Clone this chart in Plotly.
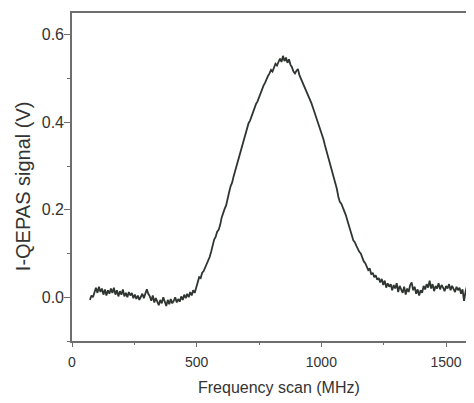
import plotly.graph_objects as go

freq_start = 72
freq_step = 6
signal_v = [
    -0.006, 0.004, 0.000, 0.014, 0.022, 0.010, 0.024, 0.012, 0.020, 0.006,
    0.018, 0.004, 0.016, 0.008, 0.020, 0.010, 0.022, 0.006, 0.016, 0.002,
    0.014, 0.006, 0.018, 0.002, 0.010, 0.000, 0.012, 0.004, 0.010, -0.002,
    0.006, -0.004, 0.004, -0.006, 0.002, 0.008, -0.002, 0.010, 0.018, 0.008,
    0.002, -0.008, 0.004, -0.012, -0.002, -0.010, -0.018, -0.006, -0.014, 0.000,
    -0.012, -0.020, -0.006, -0.016, -0.004, -0.014, -0.008, 0.000, -0.012, -0.004,
    -0.010, 0.002, -0.006, 0.006, -0.002, 0.008, 0.000, 0.012, 0.004, 0.016,
    0.010, 0.022, 0.038, 0.046, 0.044, 0.056, 0.060, 0.068, 0.072, 0.082,
    0.092, 0.104, 0.118, 0.132, 0.138, 0.150, 0.154, 0.165, 0.182, 0.195,
    0.202, 0.210, 0.222, 0.240, 0.254, 0.262, 0.276, 0.288, 0.298, 0.314,
    0.322, 0.336, 0.348, 0.362, 0.368, 0.384, 0.398, 0.404, 0.414, 0.422,
    0.430, 0.442, 0.448, 0.458, 0.466, 0.474, 0.484, 0.490, 0.500, 0.506,
    0.512, 0.520, 0.516, 0.528, 0.534, 0.530, 0.540, 0.546, 0.538, 0.552,
    0.540, 0.548, 0.536, 0.544, 0.532, 0.526, 0.516, 0.512, 0.518, 0.522,
    0.508, 0.500, 0.494, 0.486, 0.480, 0.470, 0.462, 0.452, 0.444, 0.434,
    0.424, 0.414, 0.404, 0.392, 0.386, 0.372, 0.362, 0.348, 0.336, 0.322,
    0.314, 0.300, 0.290, 0.272, 0.262, 0.248, 0.230, 0.218, 0.214, 0.206,
    0.196, 0.188, 0.176, 0.166, 0.152, 0.142, 0.130, 0.126, 0.118, 0.110,
    0.104, 0.100, 0.090, 0.082, 0.078, 0.070, 0.062, 0.066, 0.052, 0.056,
    0.046, 0.050, 0.040, 0.044, 0.034, 0.042, 0.028, 0.038, 0.022, 0.032,
    0.024, 0.030, 0.016, 0.028, 0.020, 0.032, 0.012, 0.026, 0.018, 0.010,
    0.024, 0.006, 0.020, 0.012, 0.028, 0.034, 0.016, 0.024, 0.008, 0.018,
    0.004, 0.016, 0.010, 0.026, 0.018, 0.030, 0.022, 0.038, 0.020, 0.030,
    0.014, 0.026, 0.020, 0.032, 0.018, 0.028, 0.022, 0.014, 0.026, 0.020,
    0.030, 0.016, 0.026, 0.020, 0.012, 0.024, 0.016, 0.022, 0.008, 0.018,
    -0.008, 0.012, 0.028, 0.040, 0.050,
]
freq_mhz = [freq_start + freq_step * i for i in range(len(signal_v))]

x_ticks = [0, 500, 1000, 1500]
y_ticks = [0.0, 0.2, 0.4, 0.6]
y_tick_labels = ["0.0", "0.2", "0.4", "0.6"]
x_title = "Frequency scan (MHz)"
y_title = "I-QEPAS signal (V)"

fig = go.Figure()
fig.add_trace(go.Scatter(
    x=freq_mhz, y=signal_v, mode="lines",
    line=dict(color="#2f3531", width=1.8),
    hoverinfo="skip", showlegend=False,
))

family = "Liberation Sans, Arial, sans-serif"
text_color = "#333"
axis_color = "#6e6e6e"

fig.update_layout(
    width=466, height=395,
    margin=dict(l=64, r=0, t=5, b=62),
    paper_bgcolor="white", plot_bgcolor="white",
    font=dict(family=family, size=14, color=text_color),
    xaxis=dict(
        range=[0, 1612], tickvals=x_ticks, ticktext=[str(v) for v in x_ticks],
        showgrid=False, zeroline=False,
        showline=True, linecolor=axis_color, linewidth=1.6, mirror=True,
        ticks="outside", ticklen=4, tickwidth=1.2, tickcolor=axis_color,
        ticklabelstandoff=3,
        tickfont=dict(family=family, size=14, color=text_color),
        minor=dict(ticks="outside", dtick=250, tick0=0, ticklen=2, tickwidth=1.2, tickcolor=axis_color),
    ),
    yaxis=dict(
        range=[-0.1, 0.65], tickvals=y_ticks, ticktext=y_tick_labels,
        showgrid=False, zeroline=False,
        showline=True, linecolor=axis_color, linewidth=1.6, mirror=False,
        ticks="outside", ticklen=6, tickwidth=1.2, tickcolor=axis_color,
        ticklabelstandoff=-3,
        tickfont=dict(family=family, size=16, color=text_color),
        minor=dict(ticks="outside", dtick=0.1, tick0=0, ticklen=3, tickwidth=1.2, tickcolor=axis_color),
    ),
    annotations=[
        dict(text=x_title, xref="x", x=830, yref="paper", y=0,
             yshift=-46, xanchor="center", yanchor="middle", showarrow=False,
             font=dict(family=family, size=16, color=text_color)),
        dict(text=y_title, xref="paper", x=0, xshift=-49, yref="y", y=0.254,
             xanchor="center", yanchor="middle", textangle=-90, showarrow=False,
             font=dict(family=family, size=20, color=text_color)),
    ],
)

fig.write_html("out.html")
